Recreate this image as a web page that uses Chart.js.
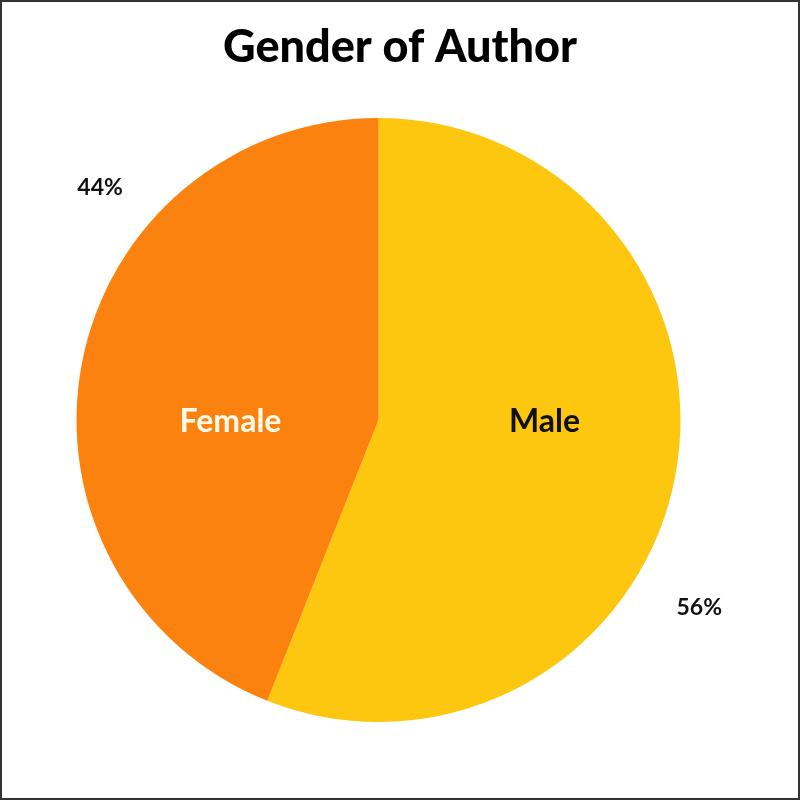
<!DOCTYPE html>
<html>
<head>
<meta charset="utf-8">
<script src="https://cdn.jsdelivr.net/npm/chart.js@4"></script>
<style>
  html, body { margin: 0; padding: 0; background: #fff; }
  .frame { width: 800px; height: 800px; box-sizing: border-box; border: 2px solid #333; }
  canvas { display: block; }
</style>
</head>
<body>
<div class="frame"><canvas id="pieChart" width="796" height="796"></canvas></div>
<script>
// Chart data
const TITLE = 'Gender of Author';
const CATEGORIES = ['Male', 'Female'];
const VALUES = [56, 44];

// Styling
const SLICE_COLORS = ['#fdc70f', '#fb820e'];
const NAME_COLORS = ['#111111', '#fffbea'];
const FONT_FAMILY = "Lato, 'Open Sans', sans-serif";

/**
 * Keep the title centred on the whole canvas, not on the padded box
 */
const centreTitle = {
  id: 'centreTitle',
  afterLayout(chart) {
    const t = chart.titleBlock;
    if (!t) return;
    t.left = 0;
    t.right = chart.width;
    t.width = chart.width;
  },
};

/**
 * Category names inside the slices, percentages outside
 */
const sliceLabels = {
  id: 'sliceLabels',
  afterDatasetsDraw(chart, args, opts) {
    const { ctx } = chart;
    const meta = chart.getDatasetMeta(0);
    const values = chart.data.datasets[0].data;
    const sum = values.reduce((a, b) => a + b, 0);

    meta.data.forEach((arc, i) => {
      const { x, y, startAngle, endAngle, outerRadius } = arc.getProps(
        ['x', 'y', 'startAngle', 'endAngle', 'outerRadius'], true);
      const mid = (startAngle + endAngle) / 2;

      // name: on the horizontal through the centre, to the slice's side
      const side = Math.cos(mid) >= 0 ? 1 : -1;
      ctx.save();
      ctx.font = opts.nameFont;
      ctx.fillStyle = NAME_COLORS[i];
      ctx.textAlign = 'center';
      ctx.textBaseline = 'middle';
      ctx.fillText(chart.data.labels[i], x + side * opts.nameDist[i] * outerRadius, y + 2);

      // percentage outside the rim
      const a = mid + (opts.pctShift[i] * Math.PI) / 180;
      const d = opts.pctDist[i] * outerRadius;
      ctx.font = opts.pctFont;
      ctx.fillStyle = '#111';
      ctx.fillText(Math.round((values[i] / sum) * 100) + '%', x + Math.cos(a) * d, y + Math.sin(a) * d);
      ctx.restore();
    });
  },
};

new Chart(document.getElementById('pieChart'), {
  type: 'pie',
  data: {
    labels: CATEGORIES,
    datasets: [
      {
        data: VALUES,
        backgroundColor: SLICE_COLORS,
        borderWidth: 0,
      },
    ],
  },
  options: {
    responsive: false,
    animation: false,
    layout: { padding: { top: 0, bottom: 76, left: 20, right: 63 } },
    plugins: {
      legend: { display: false },
      tooltip: { enabled: false },
      title: {
        display: true,
        text: TITLE,
        color: '#000',
        font: { family: FONT_FAMILY, size: 45, weight: '900' },
        padding: { top: 18, bottom: 44 },
      },
      sliceLabels: {
        nameFont: `bold 32px ${FONT_FAMILY}`,
        pctFont: `bold 23px ${FONT_FAMILY}`,
        nameDist: [0.55, 0.49],
        pctShift: [19.5, 29],
        pctDist: [1.23, 1.2],
      },
    },
  },
  plugins: [centreTitle, sliceLabels],
});
</script>
</body>
</html>
